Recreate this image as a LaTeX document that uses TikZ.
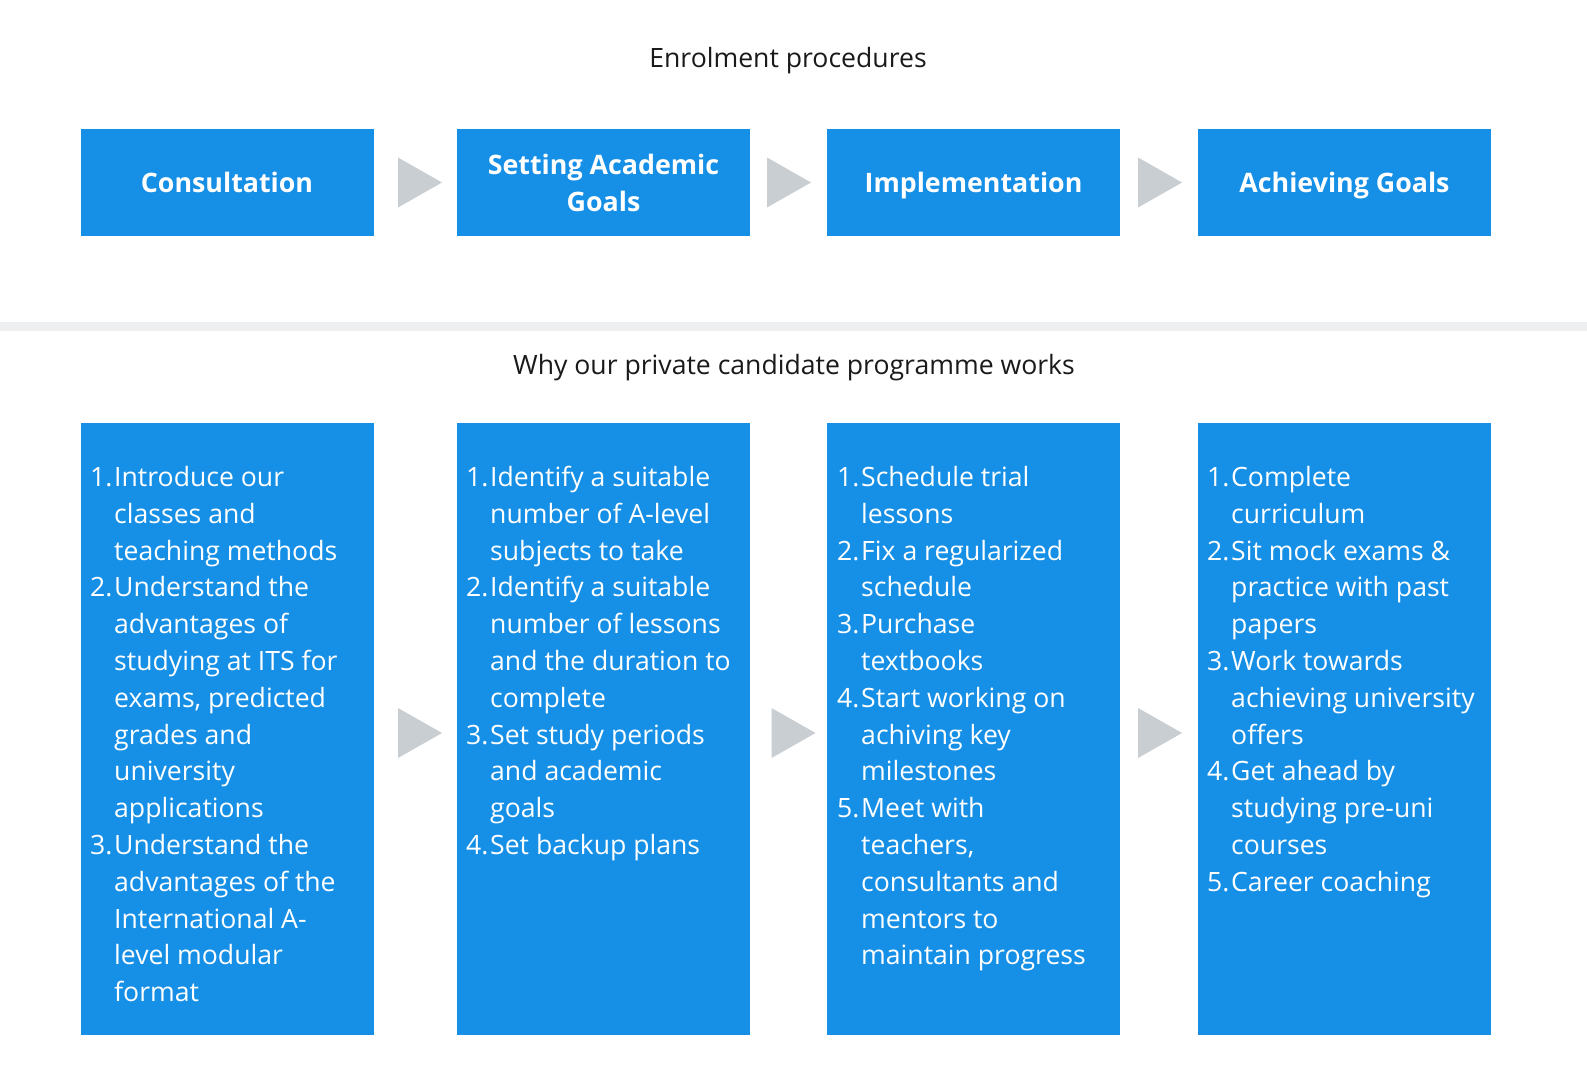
\documentclass[tikz,border=0pt]{standalone}
\usepackage{fontspec}
\setmainfont{Open Sans}
\usetikzlibrary{calc}
\definecolor{boxblue}{HTML}{168FE6}
\definecolor{arrowgray}{HTML}{C9CED3}
\definecolor{sepgray}{HTML}{EEEFF0}
\definecolor{titleblack}{HTML}{1A1A1A}
\newcommand{\itm}[2]{\makebox[24pt][l]{#1}&#2\\}
\newcommand{\cnt}[1]{&#1\\}
\tikzset{
  headbox/.style={fill=boxblue, draw=none, minimum width=293pt, minimum height=107pt,
    text=white, font=\fontsize{26.8}{37}\selectfont\bfseries, align=center, inner sep=0pt},
  oneline/.style={text height=20pt, text depth=0pt},
  listbox/.style={fill=boxblue, draw=none, minimum width=293pt, minimum height=612pt, inner sep=0pt},
  listtext/.style={anchor=base west, inner sep=0pt, text=white, font=\fontsize{26.6}{36.8}\selectfont},
  heading/.style={anchor=base, inner sep=0pt, text=titleblack, font=\fontsize{26.6}{36}\selectfont},
  tri/.style={fill=arrowgray, draw=none}
}
\begin{document}
\begin{tikzpicture}[x=1pt, y=-1pt]
\useasboundingbox (0,0) rectangle (1587,1075);
\fill[white] (0,0) rectangle (1587,1075);
\fill[sepgray] (0,322) rectangle (1587,331);

\node[heading] (t1) at (788,67.5) {Enrolment procedures};
\node[heading] (t2) at (794,374) {Why our private candidate programme works};

% top row
\node[headbox, oneline] (h1) at (227,182.5) {Consultation};
\node[headbox] (h2) at (603.5,182.5) {Setting Academic\\Goals};
\node[headbox, oneline] (h3) at (973.5,182.5) {Implementation};
\node[headbox, oneline] (h4) at (1344.5,182.5) {Achieving Goals};

% bottom row
\node[listbox] (b1) at (227,729) {};
\node[listbox] (b2) at (603.5,729) {};
\node[listbox] (b3) at (973.5,729) {};
\node[listbox] (b4) at (1344.5,729) {};

% arrows
\coordinate (a1) at (420,182.5);
\coordinate (a2) at (789,182.5);
\coordinate (a3) at (1160,182.5);
\coordinate (c1) at (420,733);
\coordinate (c2) at (793.5,733);
\coordinate (c3) at (1160,733);
\foreach \p in {a1,a2,a3,c1,c2,c3}{
  \fill[tri] ($(\p)+(-22,-25)$) -- ($(\p)+(22,0)$) -- ($(\p)+(-22,25)$) -- cycle;
}

\node[listtext] (l1) at (90,486.5) {\begin{tabular}[t]{@{}l@{}l@{}}
\itm{1.}{Introduce our}
\cnt{classes and}
\cnt{teaching methods}
\itm{2.}{Understand the}
\cnt{advantages of}
\cnt{studying at ITS for}
\cnt{exams, predicted}
\cnt{grades and}
\cnt{university}
\cnt{applications}
\itm{3.}{Understand the}
\cnt{advantages of the}
\cnt{International A-}
\cnt{level modular}
\cnt{format}
\end{tabular}};

\node[listtext] (l2) at (466,486.5) {\begin{tabular}[t]{@{}l@{}l@{}}
\itm{1.}{Identify a suitable}
\cnt{number of A-level}
\cnt{subjects to take}
\itm{2.}{Identify a suitable}
\cnt{number of lessons}
\cnt{and the duration to}
\cnt{complete}
\itm{3.}{Set study periods}
\cnt{and academic}
\cnt{goals}
\itm{4.}{Set backup plans}
\end{tabular}};

\node[listtext] (l3) at (837,486.5) {\begin{tabular}[t]{@{}l@{}l@{}}
\itm{1.}{Schedule trial}
\cnt{lessons}
\itm{2.}{Fix a regularized}
\cnt{schedule}
\itm{3.}{Purchase}
\cnt{textbooks}
\itm{4.}{Start working on}
\cnt{achiving key}
\cnt{milestones}
\itm{5.}{Meet with}
\cnt{teachers,}
\cnt{consultants and}
\cnt{mentors to}
\cnt{maintain progress}
\end{tabular}};

\node[listtext] (l4) at (1207,486.5) {\begin{tabular}[t]{@{}l@{}l@{}}
\itm{1.}{Complete}
\cnt{curriculum}
\itm{2.}{Sit mock exams \&}
\cnt{practice with past}
\cnt{papers}
\itm{3.}{Work towards}
\cnt{achieving university}
\cnt{offers}
\itm{4.}{Get ahead by}
\cnt{studying pre-uni}
\cnt{courses}
\itm{5.}{Career coaching}
\end{tabular}};
\end{tikzpicture}
\end{document}
